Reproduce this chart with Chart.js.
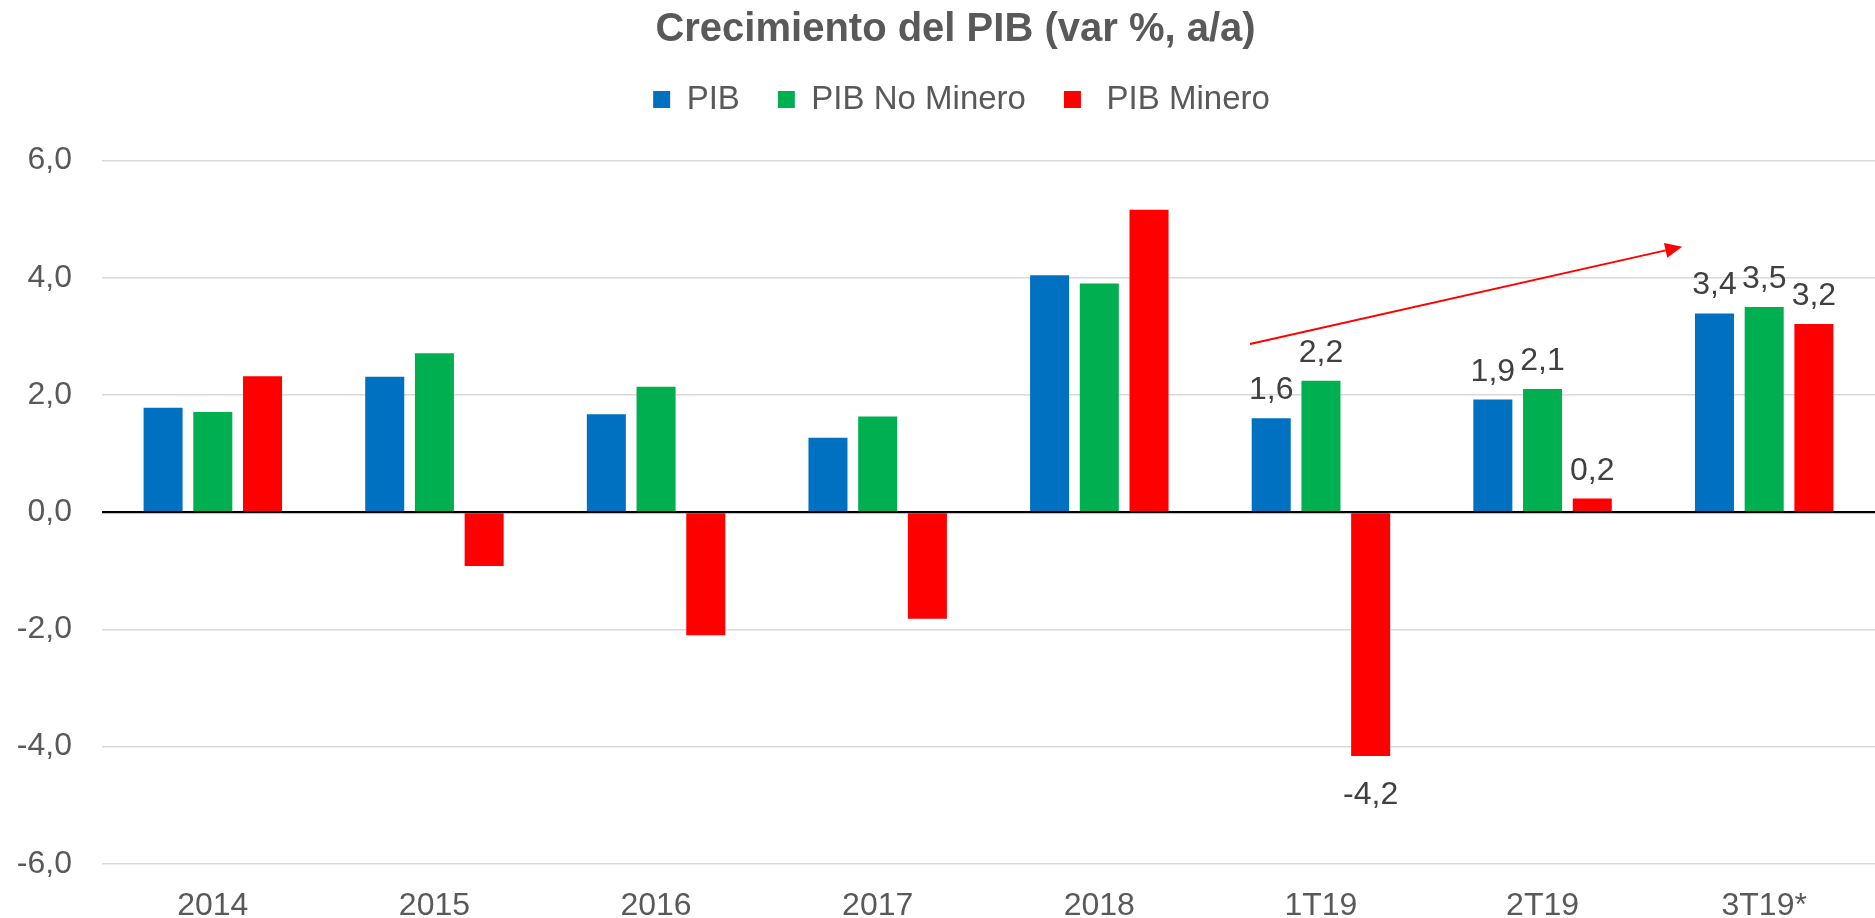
<!DOCTYPE html>
<html>
<head>
<meta charset="utf-8">
<script src="https://cdn.jsdelivr.net/npm/chart.js@4.4.1/dist/chart.umd.min.js"></script>
<style>
  html, body { margin: 0; padding: 0; background: #ffffff; }
  #wrap { width: 1875px; height: 918px; position: relative; }
</style>
</head>
<body>
<div id="wrap"><canvas id="c"></canvas></div>
<script>
// ---- Data ----
const categories = ['2014', '2015', '2016', '2017', '2018', '1T19', '2T19', '3T19*'];
const pib        = [1.78, 2.31, 1.67, 1.27, 4.04, 1.60, 1.92, 3.39];
const pibNoMin   = [1.71, 2.71, 2.14, 1.63, 3.90, 2.24, 2.10, 3.50];
const pibMinero  = [2.32, -0.92, -2.10, -1.82, 5.16, -4.16, 0.23, 3.21];
const seriesNames = ['PIB', 'PIB No Minero', ' PIB Minero'];
const yTicks = [-6, -4, -2, 0, 2, 4, 6];
const labeledCategories = ['1T19', '2T19', '3T19*'];
// trend arrow, in data coordinates (category index, value)
const arrowFrom = [4.68, 2.87];
const arrowTo   = [6.63, 4.53];

const FONT = '"Liberation Sans", Arial, Helvetica, sans-serif';
Chart.defaults.font.family = FONT;

const fmt = v => v.toFixed(1).replace('.', ',');

const valueLabels = {
  id: 'valueLabels',
  afterDatasetsDraw(chart) {
    const ctx = chart.ctx;
    ctx.save();
    ctx.font = '32px ' + FONT;
    ctx.fillStyle = '#404040';
    ctx.textAlign = 'center';
    ctx.textBaseline = 'alphabetic';
    chart.data.datasets.forEach((ds, di) => {
      const meta = chart.getDatasetMeta(di);
      meta.data.forEach((bar, i) => {
        if (!labeledCategories.includes(categories[i])) return;
        const v = ds.data[i];
        const y = v >= 0 ? bar.y - 19 : bar.y + 48;
        ctx.fillText(fmt(v), bar.x, y);
      });
    });
    ctx.restore();
  }
};

const trendArrow = {
  id: 'trendArrow',
  afterDatasetsDraw(chart) {
    const xs = chart.scales.x, ys = chart.scales.y;
    const x1 = xs.getPixelForValue(arrowFrom[0]), y1 = ys.getPixelForValue(arrowFrom[1]);
    const x2 = xs.getPixelForValue(arrowTo[0]),   y2 = ys.getPixelForValue(arrowTo[1]);
    const ang = Math.atan2(y2 - y1, x2 - x1);
    const headLen = 17, headHalf = 7.6;
    const bx = x2 - headLen * Math.cos(ang), by = y2 - headLen * Math.sin(ang);
    const ctx = chart.ctx;
    ctx.save();
    ctx.strokeStyle = '#FF0000';
    ctx.fillStyle = '#FF0000';
    ctx.lineWidth = 2;
    ctx.beginPath();
    ctx.moveTo(x1, y1);
    ctx.lineTo(bx, by);
    ctx.stroke();
    ctx.beginPath();
    ctx.moveTo(x2, y2);
    ctx.lineTo(bx + headHalf * Math.sin(ang), by - headHalf * Math.cos(ang));
    ctx.lineTo(bx - headHalf * Math.sin(ang), by + headHalf * Math.cos(ang));
    ctx.closePath();
    ctx.fill();
    ctx.restore();
  }
};

const legendSpacer = {
  id: 'legendSpacer',
  beforeInit(chart) {
    const lg = chart.legend;
    if (!lg) return;
    const origFit = lg.fit;
    lg.fit = function () { origFit.call(this); this.height += 34.5; };
  },
  afterLayout(chart) {
    // header blocks in the original are centred a little right of the canvas centre
    if (chart.titleBlock) { chart.titleBlock.left += 18; chart.titleBlock.right += 18; }
    if (chart.legend) { chart.legend.left += 24; chart.legend.right += 24; }
  }
};

new Chart(document.getElementById('c'), {
  type: 'bar',
  data: {
    labels: categories,
    datasets: [
      { label: seriesNames[0], data: pib,       backgroundColor: '#0070C0' },
      { label: seriesNames[1], data: pibNoMin,  backgroundColor: '#00B050' },
      { label: seriesNames[2], data: pibMinero, backgroundColor: '#FF0000' }
    ]
  },
  options: {
    responsive: true,
    maintainAspectRatio: false,
    animation: false,
    datasets: { bar: { categoryPercentage: 0.673, barPercentage: 0.785 } },
    layout: { padding: { left: 0, right: 0, top: 0, bottom: 0 } },
    plugins: {
      title: {
        display: true,
        text: 'Crecimiento del PIB (var %, a/a)',
        color: '#595959',
        font: { size: 40, weight: 'bold', family: FONT },
        padding: { top: 6, bottom: -9 }
      },
      legend: {
        display: true,
        position: 'top',
        labels: {
          color: '#595959',
          font: { size: 33, family: FONT },
          boxWidth: 17,
          boxHeight: 17,
          padding: 38
        }
      },
      tooltip: { enabled: false }
    },
    scales: {
      x: {
        grid: { display: false, drawTicks: false },
        border: { display: false },
        ticks: { color: '#595959', font: { size: 32 }, padding: 23, maxRotation: 0 },
        afterFit(scale) { scale.height = 54.3; }
      },
      y: {
        min: -6, max: 6,
        afterBuildTicks(scale) { scale.ticks = yTicks.map(v => ({ value: v })); },
        afterFit(scale) { scale.width = 102; },
        border: { display: false },
        grid: {
          drawTicks: false,
          color: ctx => (ctx.tick && ctx.tick.value === 0) ? '#000000' : '#D9D9D9',
          lineWidth: ctx => (ctx.tick && ctx.tick.value === 0) ? 2.2 : 1.5
        },
        ticks: {
          color: '#595959',
          font: { size: 32 },
          padding: 30,
          callback: v => fmt(v)
        }
      }
    }
  },
  plugins: [legendSpacer, valueLabels, trendArrow]
});
</script>
</body>
</html>
